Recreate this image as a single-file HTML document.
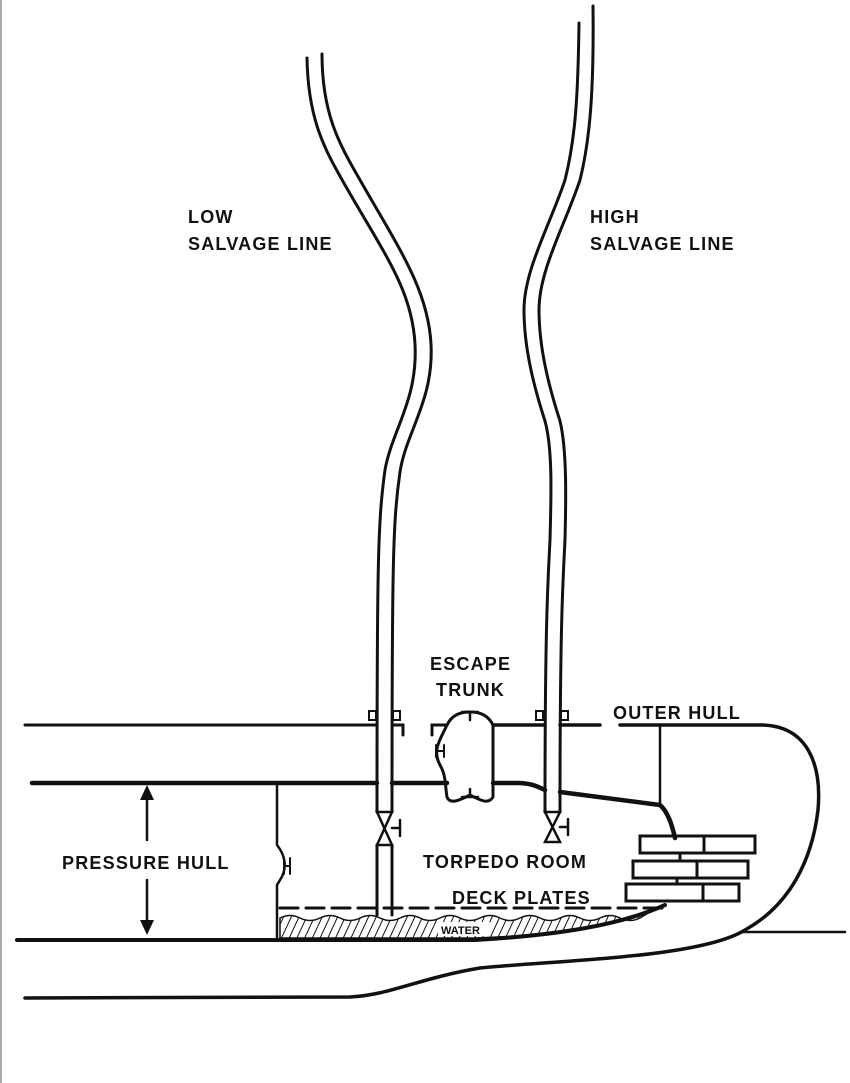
<!DOCTYPE html>
<html><head><meta charset="utf-8"><style>
html,body{margin:0;padding:0;background:#fff}
svg{display:block}
text{font-family:"Liberation Sans",sans-serif;font-weight:bold;font-size:18px;letter-spacing:1.2px;fill:#111}
</style></head><body>
<svg width="850" height="1083" viewBox="0 0 850 1083" xmlns="http://www.w3.org/2000/svg">
<defs>
<pattern id="h" width="7" height="7" patternUnits="userSpaceOnUse" patternTransform="rotate(25)">
<line x1="0" y1="0" x2="0" y2="7" stroke="#111" stroke-width="2"/>
</pattern>
</defs>
<rect x="0" y="0" width="850" height="1083" fill="#fff"/>
<line x1="1" y1="0" x2="1" y2="1083" stroke="#aaa" stroke-width="2"/>
<g fill="none" stroke="#111" stroke-linecap="round">
<path d="M307,58 C308,120 325,150 345,185 C385,255 412,290 415,344 C418,400 392,430 385,470 C378,520 377,560 377,812" stroke-width="3"/>
<path d="M322,54 C322,115 340,145 360,180 C400,250 428,290 431,344 C434,400 406,432 400,472 C393,520 392,560 392,812" stroke-width="3"/>
<path d="M579,23 C578,100 575,140 565,180 C550,225 524,270 524,310 C524,350 535,390 545,421 C553,450 551,500 550,540 C548,580 545,620 545,812" stroke-width="3"/>
<path d="M593,6 C594,90 590,140 580,180 C565,225 539,270 539,310 C539,350 550,390 560,421 C567,450 566,500 565,540 C563,580 560,620 560,812" stroke-width="3"/>
<line x1="377" y1="845" x2="377" y2="915" stroke-width="3"/>
<line x1="392" y1="845" x2="392" y2="915" stroke-width="3"/>
<path d="M25,725 L377,725 M392,725 L403,725 L403,735" stroke-width="3"/>
<path d="M432,735 L432,725 L447,725" stroke-width="3"/>
<path d="M493,725 L545,725 M560,725 L600,725 M620,725 L760,725 C808,725 822,765 818,810 C812,860 790,905 745,930 C700,958 560,960 480,968 C420,978 390,995 350,997 L25,998" stroke-width="3.5"/>
<line x1="742" y1="932" x2="845" y2="932" stroke-width="2.5"/>
<line x1="660" y1="725" x2="660" y2="805" stroke-width="2.5"/>
<path d="M32,783 L377,783 M392,783 L447,783 M493,783 L520,783 C535,784 540,788 545,790 M560,792 L660,805 C668,812 672,825 675,838" stroke-width="4.5"/>
<path d="M447,725 C440,740 432,750 440,765 C446,775 445,785 447,797 C450,805 460,800 470,795 C480,800 488,805 493,797 L493,725 C488,715 480,712 470,712 C460,712 452,715 447,725" stroke-width="3"/>
<path d="M462,712 L478,712 M470,712 L470,720 M462,797 L478,797 M470,797 L470,789" stroke-width="2.5"/>
<path d="M436,745 L436,757 M444,745 L444,757 M436,751 L444,751" stroke-width="2"/>
<rect x="369" y="711" width="7" height="9" stroke-width="2"/><rect x="393" y="711" width="7" height="9" stroke-width="2"/>
<rect x="536" y="711" width="7" height="9" stroke-width="2"/><rect x="561" y="711" width="7" height="9" stroke-width="2"/>
<path d="M377,812 L392,812 L377,845 L392,845 Z" stroke-width="2.5"/>
<path d="M392,828 L400,828 M400,820 L400,836" stroke-width="2.5"/>
<path d="M545,812 L560,812 L545,842 L560,842 Z" stroke-width="2.5"/>
<path d="M560,827 L568,827 M568,819 L568,835" stroke-width="2.5"/>
<path d="M277,783 L277,845 C285,855 288,868 280,880 L277,885 L277,940" stroke-width="2.5"/>
<path d="M284,858 L284,874 M290,858 L290,874 M284,866 L290,866" stroke-width="2"/>
<path d="M17,940 L280,940 L475,940 C560,935 620,925 665,905" stroke-width="4"/>
<line x1="280" y1="908" x2="668" y2="908" stroke-width="3" stroke-dasharray="18,8"/>
<line x1="147" y1="800" x2="147" y2="840" stroke-width="2.5"/>
<line x1="147" y1="880" x2="147" y2="920" stroke-width="2.5"/>
<g stroke-width="3">
<rect x="640" y="836" width="115" height="17"/><line x1="704" y1="836" x2="704" y2="853"/>
<rect x="633" y="861" width="115" height="17"/><line x1="697" y1="861" x2="697" y2="878"/>
<rect x="626" y="884" width="113" height="17"/><line x1="703" y1="884" x2="703" y2="901"/>
<line x1="680" y1="853" x2="680" y2="861"/><line x1="677" y1="878" x2="677" y2="884"/>
</g>
</g>
<path d="M140,800 L147,785 L154,800 Z M140,920 L147,935 L154,920 Z" fill="#111"/>
<path d="M280,918 q10,-5 20,0 t20,0 t20,0 t20,0 t20,0 t20,0 t20,0 t20,0 t20,0 t20,0 t20,0 t20,0 t20,0 t20,0 t20,0 t20,0 t20,0 t20,0 L650,912 C620,925 560,935 475,938 L280,938 Z" fill="url(#h)" stroke="#111" stroke-width="1.5"/>
<rect x="438" y="922" width="52" height="14" fill="#fff"/>
<text x="441" y="934" style="font-size:11px;letter-spacing:0">WATER</text>
<text x="188" y="223">LOW</text>
<text x="188" y="250">SALVAGE LINE</text>
<text x="590" y="223">HIGH</text>
<text x="590" y="250">SALVAGE LINE</text>
<text x="430" y="670">ESCAPE</text>
<text x="436" y="696">TRUNK</text>
<text x="613" y="719">OUTER HULL</text>
<text x="62" y="869">PRESSURE HULL</text>
<text x="423" y="868">TORPEDO ROOM</text>
<text x="452" y="904">DECK PLATES</text>
</svg>
</body></html>
